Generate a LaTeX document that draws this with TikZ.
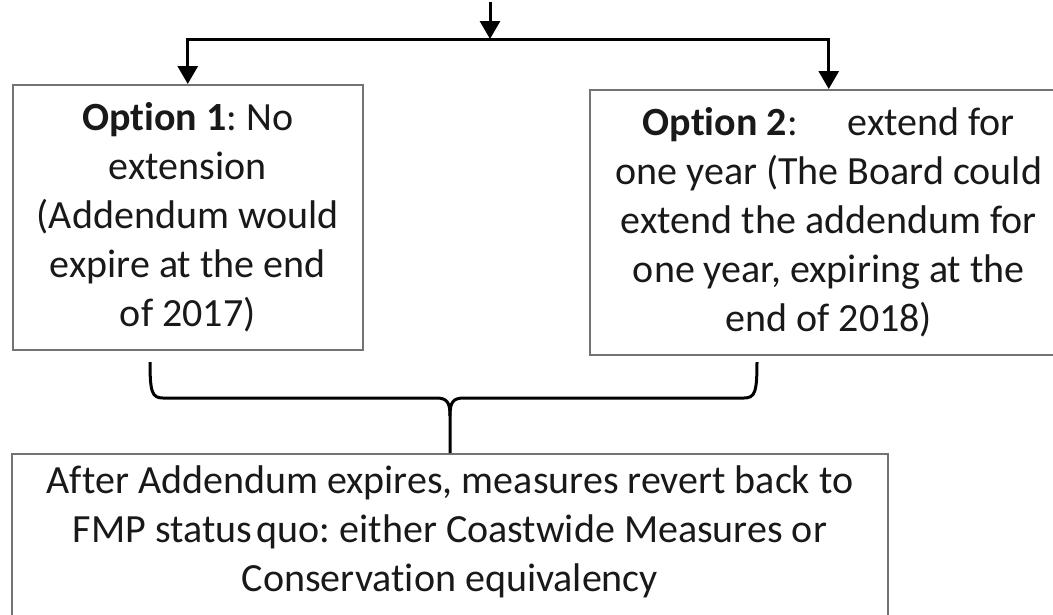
\documentclass[tikz,border=0pt]{standalone}
\usepackage{fontspec}
\setmainfont{Carlito}[Ligatures={NoCommon}]
\usetikzlibrary{arrows.meta,calc}
\definecolor{boxgray}{RGB}{115,115,115}
\definecolor{txt}{RGB}{25,25,25}
\frenchspacing
\begin{document}
\frenchspacing
\begin{tikzpicture}[x=1pt,y=1pt,
  box/.style={draw=boxgray, line width=1.5pt, inner sep=0pt, align=center, text=txt,
    font=\fontsize{40pt}{49pt}\selectfont},
  conn/.style={line width=3pt, draw=black},
  arr/.style={conn, -{Triangle[length=18pt,width=20pt]}},
]
\useasboundingbox (0,0) rectangle (1053,-614);
\node[box, minimum width=350pt, minimum height=265pt, anchor=north west] (b1) at (12,-84)
  {\textbf{Option 1}: No\\extension\\(Addendum would\\expire at the end\\of 2017)};
\node[box, minimum width=478pt, minimum height=265pt, anchor=north west] (b2) at (589,-89)
  {\textbf{Option 2}:\hspace{50pt}extend for\\one year (The Board could\\extend the addendum for\\one year, expiring at the\\end of 2018)};
\node[box, minimum width=876pt, anchor=north, inner xsep=0pt, inner ysep=12pt] (b3) at (450,-453)
  {\parbox[t][200pt][t]{850pt}{\centering After Addendum expires, measures revert back to\\FMP status\hspace{0.12em}quo: either Coastwide Measures or\\Conservation equivalency}};
% top connectors
\coordinate (src) at (490,-2);
\coordinate (j) at (490,-39);
\draw[arr] (src) -- (j);
\draw[arr] (j) -| (b1.north);
\draw[arr] (j) -| (b2.north);
% brace
\coordinate (bl) at (150,-362);
\coordinate (br) at (757,-362);
\draw[conn, line join=round] (bl) .. controls (150,-392) and (152,-398) .. (163,-398)
  -- (436,-398) .. controls (447,-398) and (450,-402) .. (450,-416) -- (b3.north);
\draw[conn, line join=round] (br) .. controls (757,-392) and (755,-398) .. (744,-398)
  -- (464,-398) .. controls (453,-398) and (450,-402) .. (450,-416);
\end{tikzpicture}
\end{document}
